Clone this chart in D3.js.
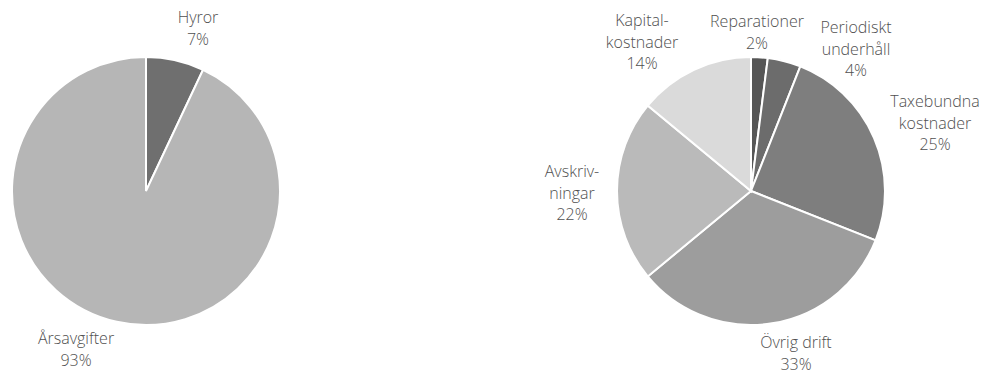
<!DOCTYPE html>
<html>
<head>
<meta charset="utf-8">
<script src="https://cdn.jsdelivr.net/npm/d3@7"></script>
<style>
  body { margin: 0; background: #fff; }
  svg text { font-family: "Open Sans", sans-serif; font-size: 16px; font-weight: 300; fill: #505050; }
</style>
</head>
<body>
<div id="chart"></div>
<script>
// left pie: income
var incomeLabels = [["Hyror"], ["Årsavgifter"]];
var incomeValues = [7, 93];
var incomeColors = ["#6f6f6f", "#b6b6b6"];

// right pie: costs
var costLabels = [["Reparationer"], ["Periodiskt", "underhåll"], ["Taxebundna", "kostnader"],
    ["Övrig drift"], ["Avskriv-", "ningar"], ["Kapital-", "kostnader"]];
var costValues = [2, 4, 25, 33, 22, 14];
var costColors = ["#565656", "#6c6c6c", "#7e7e7e", "#9d9d9d", "#bababa", "#dadada"];

// label anchor (center x, first baseline y) for each slice
var incomeLabelPos = [[198, 23], [76, 344]];
var costLabelPos = [[757, 27], [856, 33], [935, 107], [796, 348], [572, 177], [642, 26]];

var width = 985, height = 374;
var radius = 134;
var lineH = 21.5;

var svg = d3.select("#chart")
    .append("svg")
    .attr("width", width)
    .attr("height", height);

function drawPie(cx, cy, values, colors, labels, labelPos) {
    var g = svg.append("g")
        .attr("transform", "translate(" + cx + "," + cy + ")");

    var pie = d3.pie().sort(null).value(d => d);
    var arc = d3.arc().innerRadius(0).outerRadius(radius);

    g.selectAll("path")
        .data(pie(values))
        .enter()
        .append("path")
        .attr("d", arc)
        .attr("fill", (d, i) => colors[i])
        .attr("stroke", "#fff")
        .style("stroke-width", "2px");

    // labels: name lines + percent
    labels.forEach((lines, i) => {
        var t = svg.append("text")
            .attr("text-anchor", "middle")
            .attr("x", labelPos[i][0])
            .attr("y", labelPos[i][1]);
        lines.concat([values[i] + "%"]).forEach((s, j) => {
            t.append("tspan")
                .attr("x", labelPos[i][0])
                .attr("dy", j == 0 ? 0 : lineH)
                .text(s);
        });
    });
}

drawPie(146, 191, incomeValues, incomeColors, incomeLabels, incomeLabelPos);
drawPie(751, 191, costValues, costColors, costLabels, costLabelPos);
</script>
</body>
</html>
